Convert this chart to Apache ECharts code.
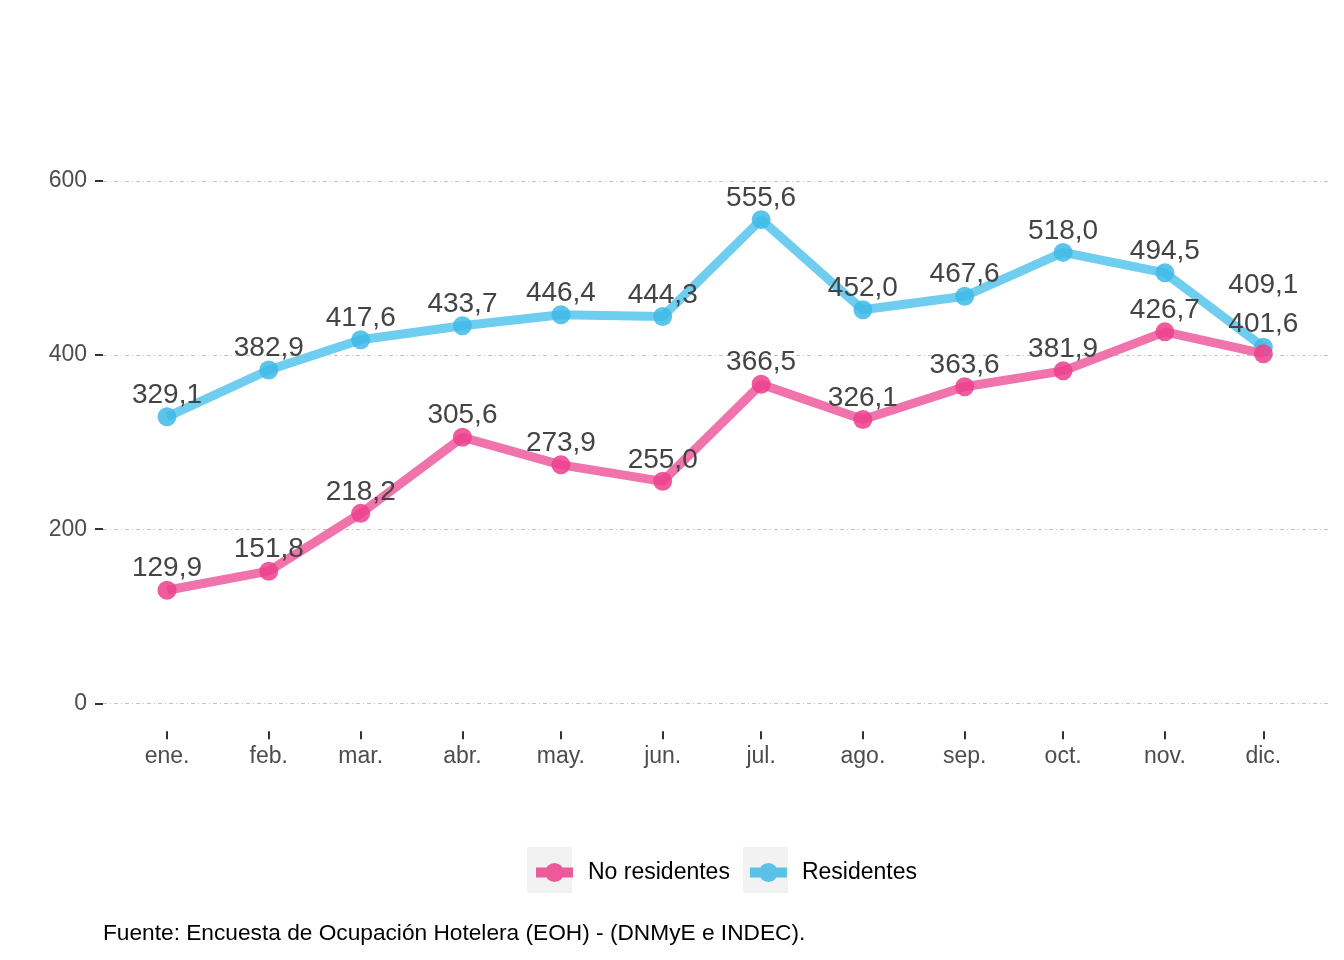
<!DOCTYPE html>
<html>
<head>
<meta charset="utf-8">
<script src="https://cdn.jsdelivr.net/npm/echarts@6/dist/echarts.min.js"></script>
<style>
html,body{margin:0;padding:0;background:#fff;}
#chart{width:1344px;height:960px;}
</style>
</head>
<body>
<div id="chart"></div>
<script>
// ---- data ----
const monthDates = ['2023-01-01','2023-02-01','2023-03-01','2023-04-01','2023-05-01','2023-06-01',
                    '2023-07-01','2023-08-01','2023-09-01','2023-10-01','2023-11-01','2023-12-01'];
const monthLabels = ['ene.','feb.','mar.','abr.','may.','jun.','jul.','ago.','sep.','oct.','nov.','dic.'];
const noResidentes = [129.9,151.8,218.2,305.6,273.9,255.0,366.5,326.1,363.6,381.9,426.7,401.6];
const residentes   = [329.1,382.9,417.6,433.7,446.4,444.3,555.6,452.0,467.6,518.0,494.5,409.1];
const yTicks = [0,200,400,600];
const seriesNames = ['No residentes','Residentes'];
const caption = 'Fuente: Encuesta de Ocupación Hotelera (EOH) - (DNMyE e INDEC).';

// ---- helpers ----
const DAY = 86400000;
const toTime = s => Date.UTC(+s.slice(0,4), +s.slice(5,7) - 1, +s.slice(8,10));
const t0 = toTime(monthDates[0]);
const days = monthDates.map(s => Math.round((toTime(s) - t0) / DAY)); // day-of-year positions
const fmt = v => v.toFixed(1).replace('.', ',');
const labelFor = v => { const i = days.indexOf(Math.round(v)); return i >= 0 ? monthLabels[i] : ''; };

const FONT = '"Liberation Sans", Arial, sans-serif';
const pinkLine = '#F173AB', pinkPoint = 'rgba(236,64,140,0.85)';
const blueLine = '#6FCEF0', bluePoint = 'rgba(64,186,232,0.85)';

function buildData(values, extraOffsetLast) {
  return values.map((v, i) => {
    const item = { value: [days[i], v] };
    if (i === values.length - 1 && extraOffsetLast) {
      item.label = { offset: [0, extraOffsetLast] };
    }
    return item;
  });
}

const labelStyle = {
  show: true, position: 'top', distance: -2,
  fontFamily: FONT, fontSize: 28, color: '#444444',
  formatter: p => fmt(p.value[1])
};

const legendIcon = 'path://M0,4.5 H37 V14.5 H0 Z M18.5,0 A9.5,9.5 0 1,1 18.49,0 Z';

const chart = echarts.init(document.getElementById('chart'), null, { renderer: 'canvas' });
chart.setOption({
  backgroundColor: '#ffffff',
  animation: false,
  textStyle: { fontFamily: FONT },
  title: {
    text: caption, left: 103, top: 922, padding: 0,
    textStyle: { fontFamily: FONT, fontSize: 22.7, fontWeight: 'normal', color: '#000' }
  },
  graphic: [
    { type: 'rect', left: 527, top: 847, shape: { width: 45, height: 46 }, style: { fill: '#F2F2F2' }, z: 0 },
    { type: 'rect', left: 743, top: 847, shape: { width: 45, height: 46 }, style: { fill: '#F2F2F2' }, z: 0 }
  ],
  legend: {
    data: seriesNames, left: 531, top: 856,
    icon: legendIcon, itemWidth: 37, itemHeight: 19, itemGap: 20,
    textStyle: { fontFamily: FONT, fontSize: 23, color: '#000', padding: [0, 0, 0, 10] },
    z: 5
  },
  grid: { left: 103, right: 14, top: 181, bottom: 256.7, containLabel: false },
  xAxis: {
    type: 'value',
    min: days[0] - 19.5,
    max: days[days.length - 1] + 20.3,
    offset: 28,
    axisLine: { show: false, onZero: false },
    axisTick: { show: true, length: 8, customValues: days, lineStyle: { color: '#333', width: 2 } },
    axisLabel: {
      customValues: days, formatter: v => labelFor(v), margin: 14,
      fontFamily: FONT, fontSize: 23, color: '#4D4D4D'
    },
    splitLine: { show: false }
  },
  yAxis: {
    type: 'value', min: yTicks[0], max: yTicks[yTicks.length - 1], interval: 200,
    axisLine: { show: false, onZero: false },
    axisTick: { show: true, length: 8, lineStyle: { color: '#333', width: 2 } },
    axisLabel: { margin: 16, padding: [6, 0, 0, 0], fontFamily: FONT, fontSize: 23, color: '#4D4D4D' },
    splitLine: { show: true, lineStyle: { color: '#C4C4C4', width: 1, type: [4, 3, 1, 3] } }
  },
  series: [
    {
      name: seriesNames[1], type: 'line', data: buildData(residentes, -40),
      lineStyle: { color: blueLine, width: 9 },
      itemStyle: { color: bluePoint },
      symbol: 'circle', symbolSize: 19, showSymbol: true,
      label: labelStyle, z: 2
    },
    {
      name: seriesNames[0], type: 'line', data: buildData(noResidentes, -8),
      lineStyle: { color: pinkLine, width: 9 },
      itemStyle: { color: pinkPoint },
      symbol: 'circle', symbolSize: 19, showSymbol: true,
      label: labelStyle, z: 3
    }
  ]
});
</script>
</body>
</html>
